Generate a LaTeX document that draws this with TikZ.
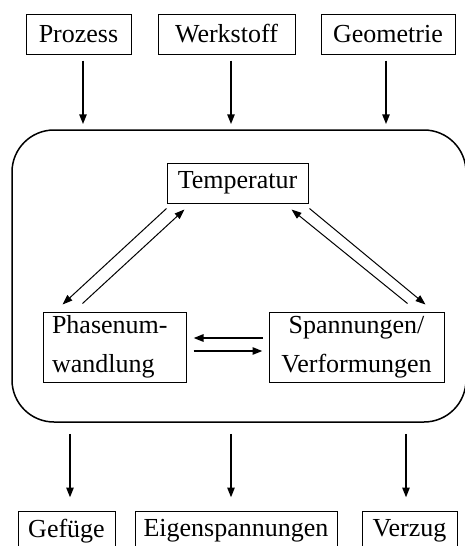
\documentclass[tikz,border=0pt]{standalone}
\usepackage{fontspec}
\setmainfont{Liberation Serif}
\usetikzlibrary{arrows.meta}
\tikzstyle{fhead}=[>/.tip={Triangle[length=5pt,width=3.6pt]}]
\tikzstyle{fbox}=[draw,line width=.5pt,inner sep=0pt,minimum height=20pt,font=\fontsize{13}{19.5}\selectfont]
\tikzstyle{sysbox}=[draw,line width=.75pt,rounded corners=21pt,minimum width=227pt,minimum height=146pt]
\tikzstyle{fw} =[line width=1pt,fhead,->]
\tikzstyle{fwt}=[line width=.5pt,fhead,->]

\begin{document}
\begin{tikzpicture}[x=.5pt,y=-.5pt]
	\useasboundingbox (0,0) rectangle (465,546);
	\clip (0,0) rectangle (465,546);
	\node[fbox,minimum width=52.5pt] (proz) at (78.5,34) {Prozess};
	\node[fbox,minimum width=68.5pt] (werk) at (226.5,34) {Werkstoff};
	\node[fbox,minimum width=67pt] (geom) at (388,34) {Geometrie};
	\node[sysbox] (sys) at (239,276) {};
	\node[fbox,minimum width=70.5pt] (temp) at (237.5,183) {Temperatur};
	\node[fbox,inner xsep=4.5pt,text width=62.5pt,minimum height=35pt,align=left] (phas) at (114.5,347) {Phasenum-\\wandlung};
	\node[fbox,minimum width=87.5pt,minimum height=35pt,align=center] (span) at (356.5,347) {Spannungen/\\Verformungen};
	\node[fbox,minimum width=48.5pt] (gef) at (66.5,531) {Gefüge};
	\node[fbox,minimum width=101pt] (eig) at (236,531) {Eigenspannungen};
	\node[fbox,minimum width=47.5pt] (verz) at (409.5,531) {Verzug};
	\draw[fw] ([shift={(4.5,6)}]proz.south) -- ([shift={(4.5,-5)}]proz.south |- sys.north);
	\draw[fw] ([shift={(4.5,6)}]werk.south) -- ([shift={(4.5,-5)}]werk.south |- sys.north);
	\draw[fw] ([shift={(-2,6)}]geom.south) -- ([shift={(-2,-5)}]geom.south |- sys.north);
	\draw[fwt] ([shift={(0,5)}]temp.south west) -- ([shift={(20,-7)}]phas.north west);
	\draw[fwt] ([shift={(40,-8)}]phas.north west) -- ([shift={(18,6)}]temp.south west);
	\draw[fwt] ([shift={(1,5)}]temp.south east) -- ([shift={(-19,-7)}]span.north east);
	\draw[fwt] ([shift={(-37,-8)}]span.north east) -- ([shift={(-17,6)}]temp.south east);
	\draw[fw] ([shift={(-6,-9)}]span.west) -- ([shift={(7,-9)}]phas.east);
	\draw[fw] ([shift={(7,4)}]phas.east) -- ([shift={(-6,4)}]span.west);
	\draw[fw] ([shift={(3.5,11)}]gef.north |- sys.south) -- ([shift={(3.5,-13)}]gef.north);
	\draw[fw] ([shift={(-5,11)}]eig.north |- sys.south) -- ([shift={(-5,-13)}]eig.north);
	\draw[fw] ([shift={(-3.5,11)}]verz.north |- sys.south) -- ([shift={(-3.5,-13)}]verz.north);
\end{tikzpicture}
\end{document}
